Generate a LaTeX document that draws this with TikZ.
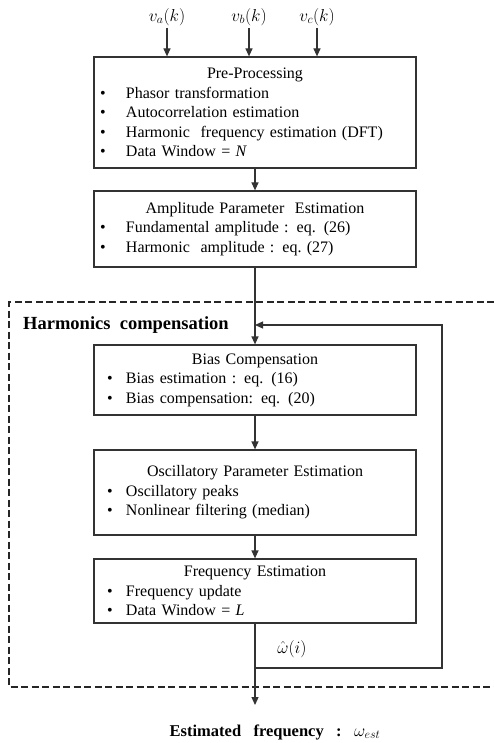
\documentclass[tikz,border=0pt]{standalone}
\usepackage{fontspec}
\setmainfont{Liberation Serif}
\usetikzlibrary{arrows.meta}
\newcommand\bitem[2]{\hspace*{#1}\makebox[0pt][l]{\textbullet}\hspace*{\dimexpr 32pt-#1\relax}#2}
\newcommand\bhead[1]{\makebox[322pt]{#1}}
\begin{document}
\begin{tikzpicture}[x=1pt,y=-1pt,
  box/.style={draw=black!80, line width=1.2pt, rectangle, minimum width=322pt, text width=322pt,
    inner xsep=0pt, inner ysep=0pt, align=left, font=\fontsize{16}{19.5}\selectfont},
  conn/.style={draw=black!80, line width=1.2pt},
  arr/.style={conn, -{Triangle[length=8pt,width=7pt]}},
  frame/.style={draw=black!85, line width=1.8pt, dash pattern=on 7pt off 3.5pt},
  lbl/.style={font=\fontsize{18}{20}\selectfont, inner sep=2pt}]
\useasboundingbox (0,0) rectangle (494,743);

% dashed frame
\draw[frame] (494,302) -- (9,302) -- (9,687) -- (494,687);

% input labels
\node[lbl] (va) at (167,17) {$v_a(k)$};
\node[lbl] (vb) at (249,17) {$v_b(k)$};
\node[lbl] (vc) at (317,17) {$v_c(k)$};

% boxes
\node[box, minimum height=111pt] (pre) at (255,112.5) {\bhead{Pre-Processing}\\
  \bitem{6pt}{Phasor transformation}\\
  \bitem{6pt}{Autocorrelation estimation}\\
  \bitem{6pt}{Harmonic\ \ frequency estimation (DFT)}\\
  \bitem{6pt}{Data Window = \textit{N}}};

\node[box, minimum height=76pt] (amp) at (255,229) {\bhead{Amplitude Parameter\ \ Estimation}\\
  \bitem{6pt}{Fundamental amplitude\ : eq. (26)}\\
  \bitem{6pt}{Harmonic\ \ amplitude : eq.\ (27)}};

\node[font=\bfseries\fontsize{18.5}{20}\selectfont, anchor=base west, inner sep=0pt] (hc) at (23,329) {Harmonics\ \ compensation};

\node[box, minimum height=70pt] (bias) at (255,380) {\bhead{Bias Compensation}\\
  \bitem{13pt}{Bias estimation : eq. (16)}\\
  \bitem{13pt}{Bias compensation: eq. (20)}};

\node[box, minimum height=85pt] (osc) at (255,492.5) {\bhead{Oscillatory\ Parameter\ Estimation}\\
  \bitem{13pt}{Oscillatory peaks}\\
  \bitem{13pt}{Nonlinear filtering\ (median)}};

\node[box, minimum height=64pt] (freq) at (255,591) {\bhead{Frequency Estimation}\\
  \bitem{13pt}{Frequency update}\\
  \bitem{13pt}{Data Window = \textit{L}}};

\node[font=\fontsize{16}{18}\selectfont] (w) at (292,649) {$\hat{\omega}(i)$};
\node[font=\bfseries\fontsize{16.5}{18}\selectfont] (est) at (275,732) {Estimated\ \ \ frequency\ \ \ :\ \ \ {\fontsize{18}{18}\selectfont$\omega_{est}$}};

% coordinates
\coordinate (j) at (freq.south |- 0,668);
\coordinate (fbtop) at (442,325);
\coordinate (fbin) at (amp.south |- fbtop);
\coordinate (out) at (freq.south |- 0,705);

% connectors
\draw[arr] (va.south) -- (va |- pre.north);
\draw[arr] (vb.south) -- (vb |- pre.north);
\draw[arr] (vc.south) -- (vc |- pre.north);
\draw[arr] (pre.south) -- (amp.north);
\draw[arr] (amp.south) -- (bias.north);
\draw[arr] (bias.south) -- (osc.north);
\draw[arr] (osc.south) -- (freq.north);
\draw[conn] (freq.south) -- (j);
\draw[arr] (j) -- (out);
\draw[arr] (j) -| (fbtop) -- (fbin);
\end{tikzpicture}
\end{document}
